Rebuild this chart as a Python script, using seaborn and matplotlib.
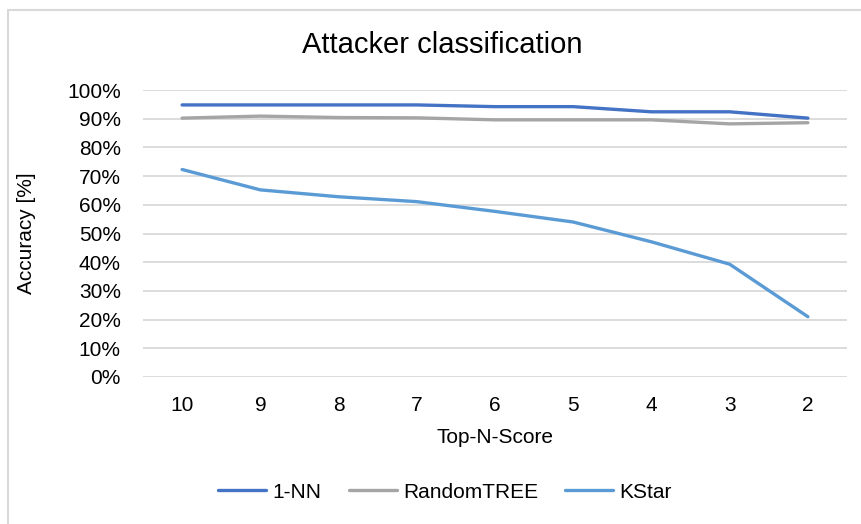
import matplotlib
matplotlib.use("Agg")
import matplotlib.pyplot as plt
import seaborn as sns
import pandas as pd
from matplotlib.patches import Rectangle
from matplotlib.ticker import PercentFormatter

categories = ["10", "9", "8", "7", "6", "5", "4", "3", "2"]
nn1 = [94.8, 94.8, 94.8, 94.8, 94.2, 94.2, 92.4, 92.4, 90.2]
random_tree = [90.2, 90.9, 90.4, 90.3, 89.6, 89.6, 89.6, 88.2, 88.6]
kstar = [72.3, 65.2, 62.8, 61.1, 57.7, 54.0, 47.1, 39.3, 21.0]
series_names = ["1-NN", "RandomTREE", "KStar"]
colors = ["#4472C4", "#A5A5A5", "#5B9BD5"]

df = pd.DataFrame({
    "Top-N-Score": categories * 3,
    "Accuracy": nn1 + random_tree + kstar,
    "Series": [series_names[0]] * 9 + [series_names[1]] * 9 + [series_names[2]] * 9,
})

sns.set_theme(style="white")
plt.rcParams["font.family"] = ["Liberation Sans", "DejaVu Sans"]
plt.rcParams["text.color"] = "black"
plt.rcParams["axes.labelcolor"] = "black"

fig = plt.figure(figsize=(8.62, 5.24), dpi=100)
ax = fig.add_axes([143 / 862, 1 - 377 / 524, (847 - 143) / 862, (377 - 90) / 524])

sns.lineplot(data=df, x="Top-N-Score", y="Accuracy", hue="Series",
             palette=dict(zip(series_names, colors)), linewidth=2.4,
             sort=False, ax=ax, legend=True)

ax.set_xlim(-0.5, 8.5)
ax.set_ylim(0, 100)
ax.set_yticks(range(0, 101, 10))
ax.yaxis.set_major_formatter(PercentFormatter(decimals=0))
ax.grid(axis="y", color="#d9d9d9", linewidth=1.3)
ax.grid(axis="x", visible=False)
ax.set_axisbelow(True)
for s in ax.spines.values():
    s.set_visible(False)
ax.tick_params(axis="both", length=0, labelsize=15, colors="black")
ax.tick_params(axis="y", pad=16)
ax.tick_params(axis="x", pad=14)
ax.set_xlabel("Top-N-Score", fontsize=15, labelpad=9)
ax.set_ylabel("Accuracy [%]", fontsize=15, labelpad=22)

ax.legend_.remove()
handles, labels = ax.get_legend_handles_labels()
fig.legend(handles, labels, loc="center", bbox_to_anchor=(445 / 862, 1 - 492 / 524),
           ncol=3, frameon=False, fontsize=15, handlelength=2.3, handletextpad=0.3,
           columnspacing=1.3)

fig.text(442 / 862, 1 - 45 / 524, "Attacker classification", ha="center", va="center",
         fontsize=21)

fig.patches.append(Rectangle((8 / 862, -0.2), 2, 1 - 10 / 524 + 0.2,
                             transform=fig.transFigure, fill=False,
                             edgecolor="#d9d9d9", linewidth=1.5))

fig.savefig("out.png", dpi=100)
